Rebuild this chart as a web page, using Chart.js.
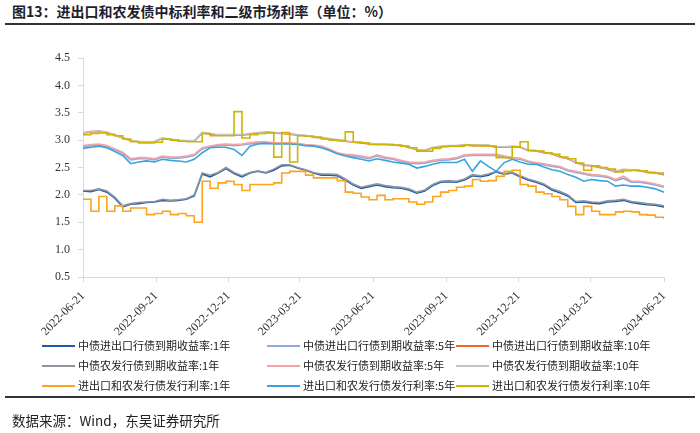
<!DOCTYPE html>
<html>
<head>
<meta charset="utf-8">
<script src="https://cdn.jsdelivr.net/npm/chart.js@4.4.1/dist/chart.umd.min.js"></script>
<style>
  body { margin: 0; width: 700px; height: 433px; background: #fff; position: relative; overflow: hidden;
         font-family: "Noto Sans CJK SC", sans-serif; }
  #title { position: absolute; left: 12px; top: 1px; font-size: 14px; font-weight: bold; color: #1e1e2e; white-space: nowrap; }
  .rule { position: absolute; left: 5px; width: 690px; height: 2px; background: #333; }
  #rateChart { position: absolute; left: 0; top: 0; }
  .item { position: absolute; font-size: 11px; color: #222; white-space: nowrap; line-height: 14px; }
  .swatch { display: inline-block; width: 33px; height: 2px; vertical-align: middle; margin-right: 3px; position: relative; top: -1px; }
  #source { position: absolute; left: 12px; top: 410px; font-size: 13.5px; color: #222; white-space: nowrap; }
</style>
</head>
<body>
<div id="title">图13：进出口和农发债中标利率和二级市场利率（单位：%）</div>
<div class="rule" style="top:23px"></div>
<canvas id="rateChart" width="700" height="433"></canvas>
<div id="legend"></div>
<div class="rule" style="top:396px"></div>
<div id="source">数据来源：Wind，东吴证券研究所</div>

<script>
// x positions: days since 2022-06-21
const dayOffsets = [0, 10, 20, 30, 40, 50, 60, 70, 80, 90, 100, 110, 120, 130, 140, 150, 160, 170, 180, 190,
  200, 210, 220, 230, 240, 250, 260, 270, 280, 290, 300, 310, 320, 330, 340, 350, 360, 370, 380, 390,
  400, 410, 420, 430, 440, 450, 460, 470, 480, 490, 500, 510, 520, 530, 540, 550, 560, 570, 580, 590,
  600, 610, 620, 630, 640, 650, 660, 670, 680, 690, 700, 710, 720, 731];

const tickDays = [0, 92, 183, 273, 365, 457, 548, 639, 731];
const tickLabels = ['2022-06-21', '2022-09-21', '2022-12-21', '2023-03-21', '2023-06-21',
  '2023-09-21', '2023-12-21', '2024-03-21', '2024-06-21'];

const seriesNames = [
  '中债进出口行债到期收益率:1年', '中债进出口行债到期收益率:5年', '中债进出口行债到期收益率:10年',
  '中债农发行债到期收益率:1年', '中债农发行债到期收益率:5年', '中债农发行债到期收益率:10年',
  '进出口和农发行债发行利率:1年', '进出口和农发行债发行利率:5年', '进出口和农发行债发行利率:10年'
];

const exim1y = [2.07, 2.06, 2.10, 2.05, 1.94, 1.78, 1.83, 1.84, 1.86, 1.87, 1.90, 1.89, 1.90, 1.92, 1.98, 2.38, 2.33, 2.40, 2.48, 2.39,
  2.33, 2.40, 2.43, 2.40, 2.45, 2.53, 2.54, 2.49, 2.45, 2.40, 2.36, 2.36, 2.35, 2.27, 2.18, 2.12, 2.15, 2.18, 2.15, 2.13,
  2.12, 2.09, 2.03, 2.07, 2.17, 2.23, 2.24, 2.23, 2.27, 2.35, 2.33, 2.36, 2.42, 2.38, 2.40, 2.33, 2.27, 2.23, 2.18, 2.09,
  2.04, 1.98, 1.86, 1.87, 1.85, 1.84, 1.87, 1.88, 1.90, 1.86, 1.84, 1.82, 1.81, 1.78];
const exim5y = [2.88, 2.90, 2.91, 2.88, 2.82, 2.76, 2.64, 2.66, 2.66, 2.64, 2.69, 2.67, 2.67, 2.69, 2.72, 2.84, 2.88, 2.90, 2.91, 2.90,
  2.91, 2.93, 2.95, 2.95, 2.94, 2.94, 2.94, 2.93, 2.91, 2.90, 2.88, 2.83, 2.76, 2.73, 2.71, 2.69, 2.66, 2.71, 2.67, 2.65,
  2.61, 2.58, 2.57, 2.58, 2.61, 2.63, 2.64, 2.66, 2.71, 2.72, 2.72, 2.72, 2.72, 2.69, 2.66, 2.65, 2.60, 2.57, 2.55, 2.52,
  2.50, 2.44, 2.41, 2.38, 2.35, 2.34, 2.32, 2.26, 2.30, 2.23, 2.23, 2.21, 2.18, 2.14];
const exim10y = [3.13, 3.15, 3.16, 3.14, 3.09, 3.04, 2.99, 2.97, 2.96, 2.97, 3.03, 3.01, 2.99, 2.98, 2.98, 3.13, 3.11, 3.09, 3.09, 3.09,
  3.09, 3.11, 3.13, 3.14, 3.13, 3.12, 3.11, 3.09, 3.08, 3.06, 3.04, 3.02, 3.00, 2.98, 2.96, 2.95, 2.93, 2.92, 2.92, 2.91,
  2.90, 2.87, 2.82, 2.81, 2.86, 2.88, 2.89, 2.89, 2.91, 2.90, 2.90, 2.90, 2.87, 2.87, 2.88, 2.87, 2.81, 2.80, 2.77, 2.75,
  2.69, 2.66, 2.59, 2.54, 2.53, 2.50, 2.47, 2.42, 2.45, 2.45, 2.44, 2.41, 2.40, 2.37];
const adbc1y = [2.08, 2.08, 2.11, 2.07, 1.96, 1.80, 1.84, 1.86, 1.87, 1.88, 1.92, 1.90, 1.91, 1.93, 2.00, 2.40, 2.36, 2.41, 2.50, 2.41,
  2.35, 2.41, 2.44, 2.41, 2.47, 2.55, 2.55, 2.50, 2.46, 2.41, 2.38, 2.38, 2.37, 2.29, 2.20, 2.14, 2.17, 2.20, 2.17, 2.15,
  2.14, 2.11, 2.05, 2.09, 2.19, 2.25, 2.26, 2.25, 2.29, 2.37, 2.35, 2.38, 2.43, 2.39, 2.41, 2.35, 2.29, 2.25, 2.20, 2.11,
  2.06, 2.00, 1.88, 1.89, 1.87, 1.86, 1.89, 1.90, 1.92, 1.88, 1.86, 1.84, 1.83, 1.80];
const adbc5y = [2.90, 2.92, 2.93, 2.90, 2.84, 2.78, 2.66, 2.68, 2.68, 2.66, 2.71, 2.69, 2.69, 2.71, 2.74, 2.86, 2.89, 2.92, 2.93, 2.92,
  2.93, 2.95, 2.97, 2.97, 2.95, 2.95, 2.95, 2.94, 2.92, 2.91, 2.89, 2.84, 2.77, 2.74, 2.73, 2.71, 2.68, 2.73, 2.69, 2.67,
  2.63, 2.60, 2.59, 2.60, 2.63, 2.65, 2.66, 2.68, 2.73, 2.74, 2.74, 2.74, 2.74, 2.71, 2.68, 2.67, 2.62, 2.59, 2.57, 2.54,
  2.52, 2.46, 2.43, 2.40, 2.37, 2.36, 2.34, 2.28, 2.34, 2.25, 2.25, 2.23, 2.20, 2.16];
const adbc10y = [3.14, 3.16, 3.17, 3.15, 3.10, 3.05, 3.00, 2.98, 2.97, 2.98, 3.04, 3.02, 3.00, 2.99, 2.99, 3.14, 3.12, 3.10, 3.10, 3.10,
  3.10, 3.12, 3.14, 3.15, 3.14, 3.13, 3.12, 3.10, 3.09, 3.07, 3.05, 3.03, 3.01, 2.99, 2.97, 2.96, 2.94, 2.93, 2.93, 2.92,
  2.91, 2.88, 2.83, 2.82, 2.87, 2.89, 2.90, 2.90, 2.92, 2.91, 2.91, 2.91, 2.88, 2.88, 2.89, 2.88, 2.82, 2.81, 2.78, 2.76,
  2.70, 2.67, 2.60, 2.55, 2.54, 2.51, 2.48, 2.43, 2.47, 2.46, 2.45, 2.42, 2.41, 2.38];
const issue1y = [1.92, 1.70, 1.97, 1.70, 1.80, 1.70, 1.76, 1.76, 1.64, 1.66, 1.70, 1.64, 1.66, 1.62, 1.50, 2.25, 2.12, 2.22, 2.25, 2.19,
  2.08, 2.19, 2.19, 2.19, 2.22, 2.40, 2.43, 2.43, 2.36, 2.31, 2.31, 2.31, 2.26, 2.05, 2.03, 1.96, 1.91, 1.99, 1.91, 1.93,
  1.93, 1.87, 1.83, 1.87, 1.97, 2.05, 2.08, 2.14, 2.16, 2.28, 2.25, 2.26, 2.34, 2.43, 2.45, 2.19, 2.16, 2.05, 2.02, 1.97,
  1.91, 1.79, 1.64, 1.79, 1.70, 1.64, 1.64, 1.69, 1.70, 1.69, 1.64, 1.63, 1.59, 1.56];
const issue5y = [2.85, 2.87, 2.89, 2.86, 2.79, 2.72, 2.57, 2.60, 2.62, 2.60, 2.65, 2.63, 2.62, 2.60, 2.65, 2.77, 2.86, 2.87, 2.87, 2.83,
  2.72, 2.89, 2.93, 2.94, 2.93, 2.93, 2.93, 2.92, 2.90, 2.89, 2.86, 2.81, 2.75, 2.71, 2.68, 2.65, 2.62, 2.66, 2.63, 2.60,
  2.58, 2.56, 2.49, 2.52, 2.56, 2.59, 2.59, 2.59, 2.65, 2.43, 2.62, 2.52, 2.43, 2.59, 2.65, 2.60, 2.56, 2.56, 2.51, 2.46,
  2.43, 2.37, 2.32, 2.25, 2.28, 2.26, 2.25, 2.16, 2.18, 2.16, 2.16, 2.14, 2.11, 2.05];
const issue10y = [3.10, 3.12, 3.13, 3.10, 3.08, 3.02, 2.97, 2.95, 2.95, 2.96, 3.02, 3.00, 2.98, 2.97, 2.97, 3.12, 3.08, 3.08, 3.08, 3.52,
  3.04, 3.10, 3.12, 3.14, 2.69, 3.14, 2.60, 3.08, 3.07, 3.05, 3.02, 3.00, 2.99, 3.15, 2.96, 2.95, 2.92, 2.92, 2.92, 2.91,
  2.89, 2.86, 2.80, 2.80, 2.85, 2.88, 2.89, 2.89, 2.91, 2.90, 2.90, 2.89, 2.68, 2.68, 2.88, 2.97, 2.81, 2.80, 2.77, 2.74,
  2.69, 2.66, 2.58, 2.45, 2.53, 2.50, 2.47, 2.42, 2.44, 2.45, 2.44, 2.41, 2.40, 2.36];

const seriesValues = [exim1y, exim5y, exim10y, adbc1y, adbc5y, adbc10y, issue1y, issue5y, issue10y];
const seriesColors = ['#1f5aa6', '#8eaadb', '#ee6a2c', '#8d96a0', '#f4a3a3', '#c4c4c4', '#fca41c', '#3aa3de', '#cdb500'];
const steppedSeries = [false, false, false, false, false, false, true, false, true];

const datasets = seriesNames.map((name, i) => ({
  label: name,
  data: dayOffsets.map((d, k) => ({ x: d, y: seriesValues[i][k] })),
  borderColor: seriesColors[i],
  backgroundColor: seriesColors[i],
  borderWidth: 1.6,
  pointRadius: 0,
  tension: 0,
  stepped: steppedSeries[i],
  order: -i,   // later series on top, like the original
  fill: false
}));

const tickFont = { family: '"Liberation Serif", "Times New Roman", serif', size: 12 };
const axisColor = '#d9d9d9';

new Chart(document.getElementById('rateChart'), {
  type: 'line',
  data: { datasets: datasets },
  options: {
    responsive: false,
    animation: false,
    devicePixelRatio: 1,
    layout: { padding: { left: 0, top: 58, right: 36, bottom: 96 } },
    plugins: { legend: { display: false }, tooltip: { enabled: false } },
    scales: {
      x: {
        type: 'linear',
        min: 0,
        max: 731,
        afterBuildTicks: axis => { axis.ticks = tickDays.map(v => ({ value: v })); },
        afterFit: axis => { axis.height = 60; },
        ticks: {
          autoSkip: false,
          minRotation: 45,
          maxRotation: 45,
          padding: 7,
          color: '#333',
          font: tickFont,
          callback: v => tickLabels[tickDays.indexOf(v)]
        },
        grid: { display: true, drawOnChartArea: false, tickLength: 5, color: axisColor },
        border: { color: axisColor }
      },
      y: {
        min: 0.5,
        max: 4.5,
        afterFit: axis => { axis.width = 83; },
        ticks: { stepSize: 0.5, padding: 8, color: '#333', font: tickFont, callback: v => v.toFixed(1) },
        grid: { display: true, drawOnChartArea: false, tickLength: 5, color: axisColor },
        border: { color: axisColor }
      }
    }
  }
});

// legend: 3 columns x 3 rows, same order as the source
const legendCols = [42, 267, 456];
const legendRows = [338, 358, 378];
const legendBox = document.getElementById('legend');
seriesNames.forEach((name, i) => {
  const item = document.createElement('div');
  item.className = 'item';
  item.style.left = legendCols[i % 3] + 'px';
  item.style.top = legendRows[Math.floor(i / 3)] + 'px';
  item.innerHTML = '<span class="swatch" style="background:' + seriesColors[i] + '"></span>' + name;
  legendBox.appendChild(item);
});
</script>
</body>
</html>
